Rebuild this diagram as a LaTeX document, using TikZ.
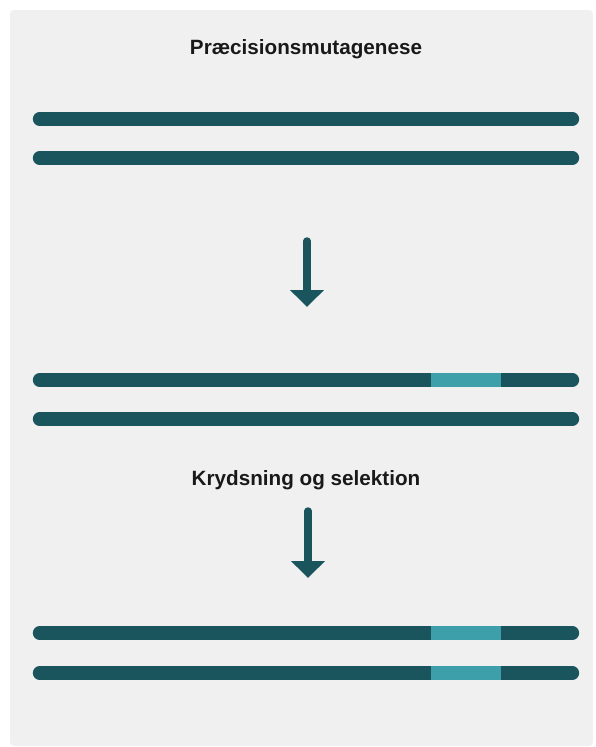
\documentclass[tikz,border=0pt]{standalone}
\usepackage{fontspec}
\setmainfont{Liberation Sans}
\usepackage{tikz}
\usetikzlibrary{positioning,arrows.meta}
\definecolor{darkteal}{HTML}{1A555D}
\definecolor{lightteal}{HTML}{3C9FAA}
\definecolor{panelgray}{HTML}{F0F0F0}

\begin{document}
\begin{tikzpicture}[x=0.75pt,y=-0.75pt,
	strand/.style={line width=10pt,line cap=round,draw=darkteal},
	edit/.style={line width=10pt,draw=lightteal},
	title/.style={font=\fontsize{15.5}{18}\selectfont\bfseries,text=black!90},
	down/.style={line width=5.6pt,line cap=round,draw=darkteal,fill=darkteal,-{Triangle[width=24.75pt,length=12.75pt]}}]
	\useasboundingbox (0,0) rectangle (596,747);
	\fill[white] (0,0) rectangle (596,747);
	\fill[panelgray,rounded corners=3pt] (10,10) rectangle (593,746);
	\node[title] (head) at (306,49) {Præcisionsmutagenese};
	\node[title] (cross) at (306,480) {Krydsning og selektion};
	\foreach \y in {119,158,380,419,633,673}
		\draw[strand] (39.5,\y) -- (572.5,\y);
	\foreach \y in {380,633,673}
		\draw[edit] (431,\y) -- (501,\y);
	\coordinate (a1top) at (307,241);
	\coordinate (a1tip) at (307,307);
	\coordinate (a2top) at (308,511);
	\coordinate (a2tip) at (308,578);
	\draw[down] (a1top) -- (a1tip);
	\draw[down] (a2top) -- (a2tip);
	%\draw[red] (0,0) grid[step=50] (596,747);
\end{tikzpicture}
\end{document}
